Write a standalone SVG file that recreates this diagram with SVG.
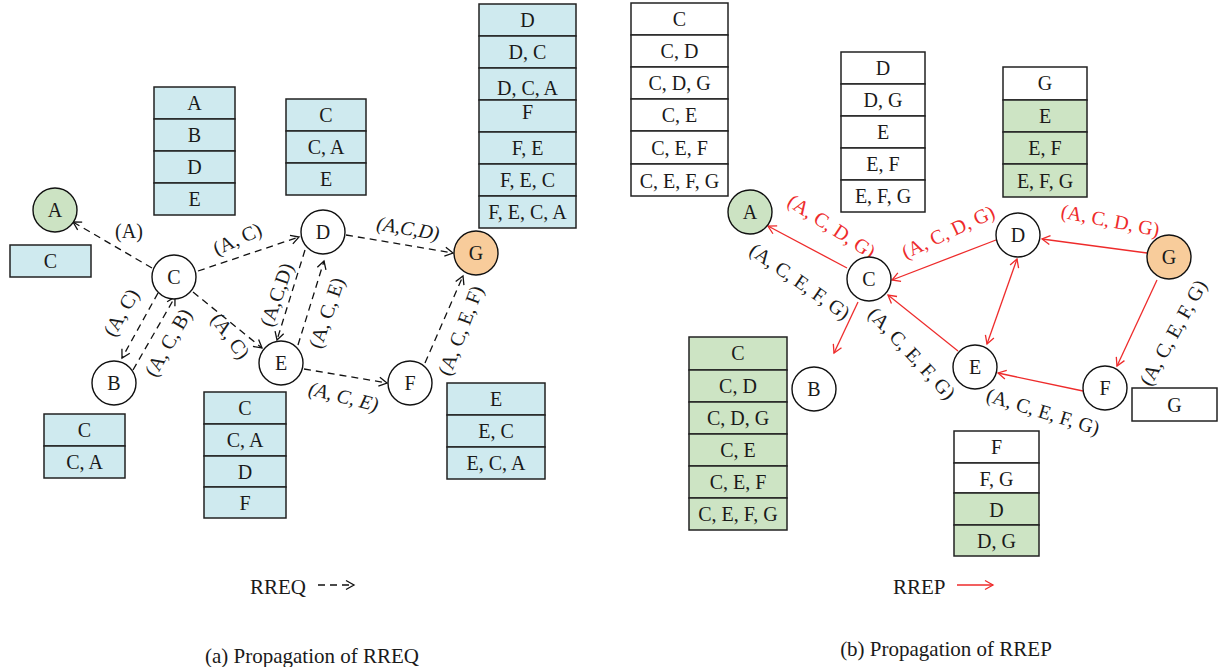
<svg xmlns="http://www.w3.org/2000/svg" width="1219" height="667" viewBox="0 0 1219 667">
  <style>
    text { font-family: "Liberation Serif", "DejaVu Serif", serif; font-size: 20px; fill: #1a1a1a; }
    .cell { stroke: #222; stroke-width: 1.5; }
    .bl { fill: #cfeaef; }
    .gr { fill: #cde4c4; }
    .wh { fill: #ffffff; }
    .nd { stroke: #111; stroke-width: 1.4; fill: #fff; }
    .ndA { fill: #cce3c3; }
    .ndG { fill: #f8cc9b; }
    .req { fill: none; stroke: #111; stroke-width: 1.3; stroke-dasharray: 7 5; marker-end: url(#ahk); }
    .rep { fill: none; stroke: #ee2b2b; stroke-width: 1.3; marker-end: url(#ahr); }
    .both { marker-start: url(#ahr); }
    .red { fill: #ee2b2b; }
    .it { font-style: italic; }
    .c { text-anchor: middle; }
    .cap { font-size: 21px; }
  </style>
  <defs>
    <marker id="ahk" viewBox="-10 -6 12 12" refX="0" refY="0" markerWidth="12" markerHeight="12" markerUnits="userSpaceOnUse" orient="auto-start-reverse">
      <path d="M-8,-4.5 L0,0 L-8,4.5" fill="none" stroke="#111" stroke-width="1.3" stroke-dasharray="none"/>
    </marker>
    <marker id="ahr" viewBox="-10 -6 12 12" refX="0" refY="0" markerWidth="12" markerHeight="12" markerUnits="userSpaceOnUse" orient="auto-start-reverse">
      <path d="M-8,-4.5 L0,0 L-8,4.5" fill="none" stroke="#ee2b2b" stroke-width="1.3"/>
    </marker>
  </defs>

  <!-- ===== (a) RREQ propagation ===== -->
  <g id="connectors-rreq">
    <path class="req" d="M152,268 L73,222"/>
    <path class="req" d="M198,271 L299,237"/>
    <path class="req" d="M193,292 L262,348"/>
    <path class="req" d="M158,293 L122,358"/>
    <path class="req" d="M133,370 L175,297"/>
    <path class="req" d="M305,250 L277,340"/>
    <path class="req" d="M298,345 L324,261"/>
    <path class="req" d="M346,235 L453,253"/>
    <path class="req" d="M304,369 L387,383"/>
    <path class="req" d="M425,363 L463,276"/>
  </g>
  <g id="labels-rreq">
    <text class="c" x="129" y="238">(A)</text>
    <text class="c" transform="translate(240,245) rotate(-24)">(A, C)</text>
    <text class="c" transform="translate(225,340) rotate(54)">(A, C)</text>
    <text class="c" transform="translate(127,316) rotate(-60)">(A, C)</text>
    <text class="c" transform="translate(174,346) rotate(-60)">(A, C, B)</text>
    <text class="c" transform="translate(283,297) rotate(-71)">(A,C,D)</text>
    <text class="c" transform="translate(333,315) rotate(-71)">(A, C, E)</text>
    <text class="c it" transform="translate(407,235) rotate(10)">(A,C,D)</text>
    <text class="c it" transform="translate(342,403) rotate(14)">(A, C, E)</text>
    <text class="c" transform="translate(467,333) rotate(-69)">(A, C, E, F)</text>
  </g>

  <g id="node-a-A"><circle class="nd ndA" cx="55" cy="210" r="22"/><text class="c" x="55" y="217">A</text></g>
  <g id="node-a-B"><circle class="nd" cx="114" cy="383" r="22"/><text class="c" x="114" y="390">B</text></g>
  <g id="node-a-C"><circle class="nd" cx="174" cy="277" r="22"/><text class="c" x="174" y="284">C</text></g>
  <g id="node-a-D"><circle class="nd" cx="323" cy="232" r="22"/><text class="c" x="323" y="239">D</text></g>
  <g id="node-a-E"><circle class="nd" cx="281" cy="363" r="22"/><text class="c" x="281" y="370">E</text></g>
  <g id="node-a-F"><circle class="nd" cx="410" cy="383" r="22"/><text class="c" x="410" y="390">F</text></g>
  <g id="node-a-G"><circle class="nd ndG" cx="476" cy="253" r="22"/><text class="c" x="476" y="260">G</text></g>

  <g id="table-a-A">
    <rect class="cell bl" x="10" y="245" width="81" height="32"/><text class="c" x="50.5" y="268">C</text>
  </g>
  <g id="table-a-C">
    <rect class="cell bl" x="154" y="87" width="81" height="32"/><text class="c" x="194.5" y="110">A</text>
    <rect class="cell bl" x="154" y="119" width="81" height="32"/><text class="c" x="194.5" y="142">B</text>
    <rect class="cell bl" x="154" y="151" width="81" height="32"/><text class="c" x="194.5" y="174">D</text>
    <rect class="cell bl" x="154" y="183" width="81" height="32"/><text class="c" x="194.5" y="206">E</text>
  </g>
  <g id="table-a-D">
    <rect class="cell bl" x="286" y="99" width="80" height="32"/><text class="c" x="326" y="122">C</text>
    <rect class="cell bl" x="286" y="131" width="80" height="32"/><text class="c" x="326" y="154">C, A</text>
    <rect class="cell bl" x="286" y="163" width="80" height="32"/><text class="c" x="326" y="186">E</text>
  </g>
  <g id="table-a-G">
    <rect class="cell bl" x="479" y="4" width="97" height="32"/><text class="c" x="527.5" y="27">D</text>
    <rect class="cell bl" x="479" y="36" width="97" height="32"/><text class="c" x="527.5" y="59">D, C</text>
    <rect class="cell bl" x="479" y="68" width="97" height="32"/><text class="c" x="527.5" y="95">D, C, A</text>
    <rect class="cell bl" x="479" y="100" width="97" height="32"/><text class="c" x="527.5" y="119">F</text>
    <rect class="cell bl" x="479" y="132" width="97" height="32"/><text class="c" x="527.5" y="155">F, E</text>
    <rect class="cell bl" x="479" y="164" width="97" height="32"/><text class="c" x="527.5" y="187">F, E, C</text>
    <rect class="cell bl" x="479" y="196" width="97" height="32"/><text class="c" x="527.5" y="219">F, E, C, A</text>
  </g>
  <g id="table-a-B">
    <rect class="cell bl" x="44" y="414" width="81" height="32"/><text class="c" x="84.5" y="437">C</text>
    <rect class="cell bl" x="44" y="446" width="81" height="32"/><text class="c" x="84.5" y="469">C, A</text>
  </g>
  <g id="table-a-E">
    <rect class="cell bl" x="204" y="392" width="82" height="32"/><text class="c" x="245" y="415">C</text>
    <rect class="cell bl" x="204" y="424" width="82" height="32"/><text class="c" x="245" y="447">C, A</text>
    <rect class="cell bl" x="204" y="456" width="82" height="31"/><text class="c" x="245" y="479">D</text>
    <rect class="cell bl" x="204" y="487" width="82" height="31"/><text class="c" x="245" y="510">F</text>
  </g>
  <g id="table-a-F">
    <rect class="cell bl" x="447" y="383" width="98" height="32"/><text class="c" x="496" y="406">E</text>
    <rect class="cell bl" x="447" y="415" width="98" height="32"/><text class="c" x="496" y="438">E, C</text>
    <rect class="cell bl" x="447" y="447" width="98" height="32"/><text class="c" x="496" y="470">E, C, A</text>
  </g>

  <g id="legend-a">
    <text class="cap" x="250" y="594">RREQ</text>
    <path class="req" d="M318,585 L354,585"/>
  </g>
  <text id="caption-a" class="cap c" x="312" y="663">(a) Propagation of RREQ</text>

  <!-- ===== (b) RREP propagation ===== -->
  <g id="connectors-rrep">
    <path class="rep" d="M847,268 L768,226"/>
    <path class="rep" d="M996,240 L892,280"/>
    <path class="rep" d="M858,302 L834,353"/>
    <path class="rep" d="M958,351 L888,295"/>
    <path class="rep both" d="M987,344 L1017,259"/>
    <path class="rep" d="M1147,253 L1042,239"/>
    <path class="rep" d="M1157,280 L1117,366"/>
    <path class="rep" d="M1083,391 L998,373"/>
  </g>
  <g id="labels-rrep">
    <text class="c red" transform="translate(828,232) rotate(33)">(A, C, D, G)</text>
    <text class="c" transform="translate(796,287) rotate(35)">(A, C, E, F, G)</text>
    <text class="c red" transform="translate(951,238) rotate(-25)">(A, C, D, G)</text>
    <text class="c" transform="translate(907,358) rotate(47)">(A, C, E, F, G)</text>
    <text class="c red" transform="translate(1109,227) rotate(11)">(A, C, D, G)</text>
    <text class="c" transform="translate(1179,336) rotate(-61)">(A, C, E, F, G)</text>
    <text class="c" transform="translate(1041,418) rotate(17)">(A, C, E, F, G)</text>
  </g>

  <g id="node-b-A"><circle class="nd ndA" cx="750" cy="212" r="22"/><text class="c" x="750" y="219">A</text></g>
  <g id="node-b-B"><circle class="nd" cx="814" cy="389" r="22"/><text class="c" x="814" y="396">B</text></g>
  <g id="node-b-C"><circle class="nd" cx="869" cy="279" r="22"/><text class="c" x="869" y="286">C</text></g>
  <g id="node-b-D"><circle class="nd" cx="1018" cy="235" r="22"/><text class="c" x="1018" y="242">D</text></g>
  <g id="node-b-E"><circle class="nd" cx="975" cy="367" r="22"/><text class="c" x="975" y="374">E</text></g>
  <g id="node-b-F"><circle class="nd" cx="1105" cy="388" r="22"/><text class="c" x="1105" y="395">F</text></g>
  <g id="node-b-G"><circle class="nd ndG" cx="1169" cy="257" r="22"/><text class="c" x="1169" y="264">G</text></g>

  <g id="table-b-A">
    <rect class="cell wh" x="631" y="3" width="97" height="32"/><text class="c" x="679.5" y="26">C</text>
    <rect class="cell wh" x="631" y="35" width="97" height="32"/><text class="c" x="679.5" y="58">C, D</text>
    <rect class="cell wh" x="631" y="67" width="97" height="32"/><text class="c" x="679.5" y="90">C, D, G</text>
    <rect class="cell wh" x="631" y="99" width="97" height="32"/><text class="c" x="679.5" y="122">C, E</text>
    <rect class="cell wh" x="631" y="131" width="97" height="33"/><text class="c" x="679.5" y="155">C, E, F</text>
    <rect class="cell wh" x="631" y="164" width="97" height="32"/><text class="c" x="679.5" y="188">C, E, F, G</text>
  </g>
  <g id="table-b-C">
    <rect class="cell wh" x="841" y="52" width="84" height="32"/><text class="c" x="883" y="75">D</text>
    <rect class="cell wh" x="841" y="84" width="84" height="32"/><text class="c" x="883" y="107">D, G</text>
    <rect class="cell wh" x="841" y="116" width="84" height="32"/><text class="c" x="883" y="139">E</text>
    <rect class="cell wh" x="841" y="148" width="84" height="32"/><text class="c" x="883" y="171">E, F</text>
    <rect class="cell wh" x="841" y="180" width="84" height="32"/><text class="c" x="883" y="203">E, F, G</text>
  </g>
  <g id="table-b-D">
    <rect class="cell wh" x="1003" y="67" width="84" height="33"/><text class="c" x="1045" y="90">G</text>
    <rect class="cell gr" x="1003" y="100" width="84" height="32"/><text class="c" x="1045" y="123">E</text>
    <rect class="cell gr" x="1003" y="132" width="84" height="32"/><text class="c" x="1045" y="155">E, F</text>
    <rect class="cell gr" x="1003" y="164" width="84" height="33"/><text class="c" x="1045" y="188">E, F, G</text>
  </g>
  <g id="table-b-F">
    <rect class="cell wh" x="1132" y="388" width="85" height="33"/><text class="c" x="1174.5" y="412">G</text>
  </g>
  <g id="table-b-C2">
    <rect class="cell gr" x="689" y="337" width="98" height="33"/><text class="c" x="738" y="360">C</text>
    <rect class="cell gr" x="689" y="370" width="98" height="32"/><text class="c" x="738" y="393">C, D</text>
    <rect class="cell gr" x="689" y="402" width="98" height="32"/><text class="c" x="738" y="425">C, D, G</text>
    <rect class="cell gr" x="689" y="434" width="98" height="32"/><text class="c" x="738" y="457">C, E</text>
    <rect class="cell gr" x="689" y="466" width="98" height="32"/><text class="c" x="738" y="489">C, E, F</text>
    <rect class="cell gr" x="689" y="498" width="98" height="32"/><text class="c" x="738" y="521">C, E, F, G</text>
  </g>
  <g id="table-b-E">
    <rect class="cell wh" x="954" y="431" width="85" height="32"/><text class="c" x="996.5" y="454">F</text>
    <rect class="cell wh" x="954" y="463" width="85" height="30"/><text class="c" x="996.5" y="486">F, G</text>
    <rect class="cell gr" x="954" y="493" width="85" height="32"/><text class="c" x="996.5" y="517">D</text>
    <rect class="cell gr" x="954" y="525" width="85" height="31"/><text class="c" x="996.5" y="548">D, G</text>
  </g>

  <g id="legend-b">
    <text class="cap" x="893" y="594">RREP</text>
    <path class="rep" d="M957,585 L993,585"/>
  </g>
  <text id="caption-b" class="cap c" x="946" y="656">(b) Propagation of RREP</text>
</svg>
